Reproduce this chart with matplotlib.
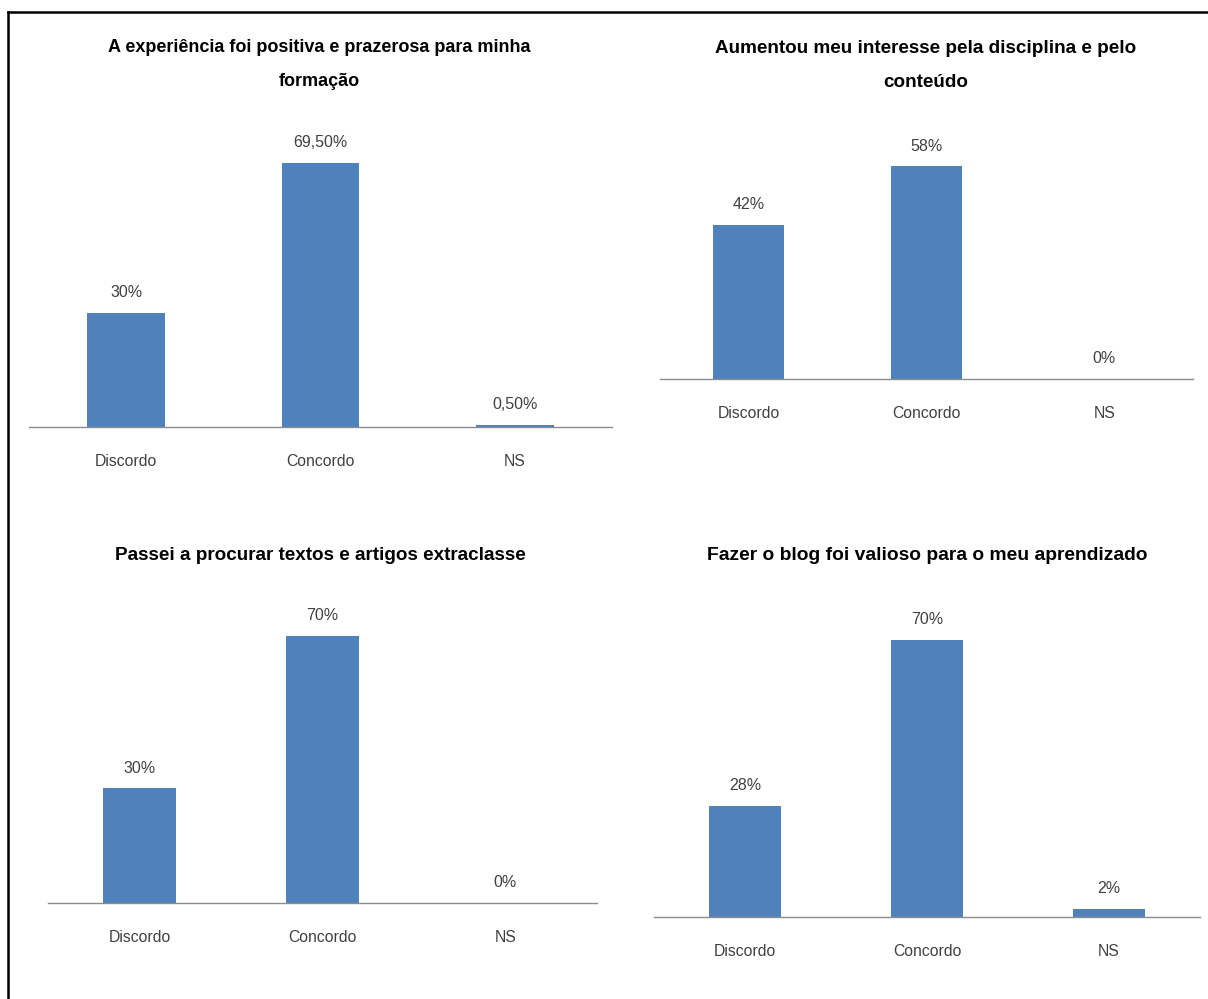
import matplotlib
matplotlib.use('Agg')
import matplotlib.pyplot as plt
from matplotlib.lines import Line2D

plt.rcParams['font.family'] = ['Liberation Sans', 'DejaVu Sans']

categories = ['Discordo', 'Concordo', 'NS']

title_1 = 'A experiência foi positiva e prazerosa para minha\nformação'
values_1 = [30.0, 69.5, 0.5]
labels_1 = ['30%', '69,50%', '0,50%']

title_2 = 'Aumentou meu interesse pela disciplina e pelo\nconteúdo'
values_2 = [42.0, 58.0, 0.0]
labels_2 = ['42%', '58%', '0%']

title_3 = 'Passei a procurar textos e artigos extraclasse'
values_3 = [30.0, 70.0, 0.0]
labels_3 = ['30%', '70%', '0%']

title_4 = 'Fazer o blog foi valioso para o meu aprendizado'
values_4 = [28.0, 70.0, 2.0]
labels_4 = ['28%', '70%', '2%']

W, H = 1208, 999
BAR = '#4F81BD'
AXIS = '#8c8c8c'
TXT = '#404040'

fig = plt.figure(figsize=(W / 100, H / 100), dpi=100)
fig.patch.set_facecolor('white')

# (left px, right px, axis-line y px, px per percent, title x px, title y px, title size)
panels = [
    (title_1, values_1, labels_1, 29, 612, 427, 3.80, 319, 64.5, 13.0),
    (title_2, values_2, labels_2, 660, 1193, 379, 3.67, 926, 65.5, 13.6),
    (title_3, values_3, labels_3, 48, 597, 903, 3.82, 320, 555, 13.6),
    (title_4, values_4, labels_4, 654, 1200, 917, 3.96, 927, 555, 13.9),
]

YMAX = 80
for title, vals, labs, l, r, ay, ppp, tx, ty, ts in panels:
    h = YMAX * ppp
    ax = fig.add_axes([l / W, 1 - ay / H, (r - l) / W, h / H])
    ax.bar(range(len(categories)), vals, width=0.4, color=BAR, zorder=2)
    ax.set_xlim(-0.5, len(categories) - 0.5)
    ax.set_ylim(0, YMAX)
    for s in ['top', 'left', 'right']:
        ax.spines[s].set_visible(False)
    ax.spines['bottom'].set_color(AXIS)
    ax.spines['bottom'].set_linewidth(1.0)
    ax.set_xticks([])
    ax.set_yticks([])
    ax.patch.set_alpha(0)
    for i, (v, t) in enumerate(zip(vals, labs)):
        ax.annotate(t, (i, v), xytext=(0, 14.5), textcoords='offset points',
                    ha='center', va='center', fontsize=11.5, color=TXT,
                    annotation_clip=False)
    for i, c in enumerate(categories):
        ax.annotate(c, (i, 0), xytext=(0, -25), textcoords='offset points',
                    ha='center', va='center', fontsize=11.3, color=TXT,
                    annotation_clip=False)
    fig.text(tx / W, 1 - ty / H, title, ha='center', va='center',
             fontsize=ts, fontweight='bold', color='black', linespacing=2.25)

# border (top and left)
fig.add_artist(Line2D([8 / W, 1.0], [1 - 12 / H, 1 - 12 / H], color='black',
                      linewidth=1.8, transform=fig.transFigure))
fig.add_artist(Line2D([8 / W, 8 / W], [0.0, 1 - 12 / H], color='black',
                      linewidth=1.8, transform=fig.transFigure))

fig.savefig('out.png', dpi=100, facecolor='white')
